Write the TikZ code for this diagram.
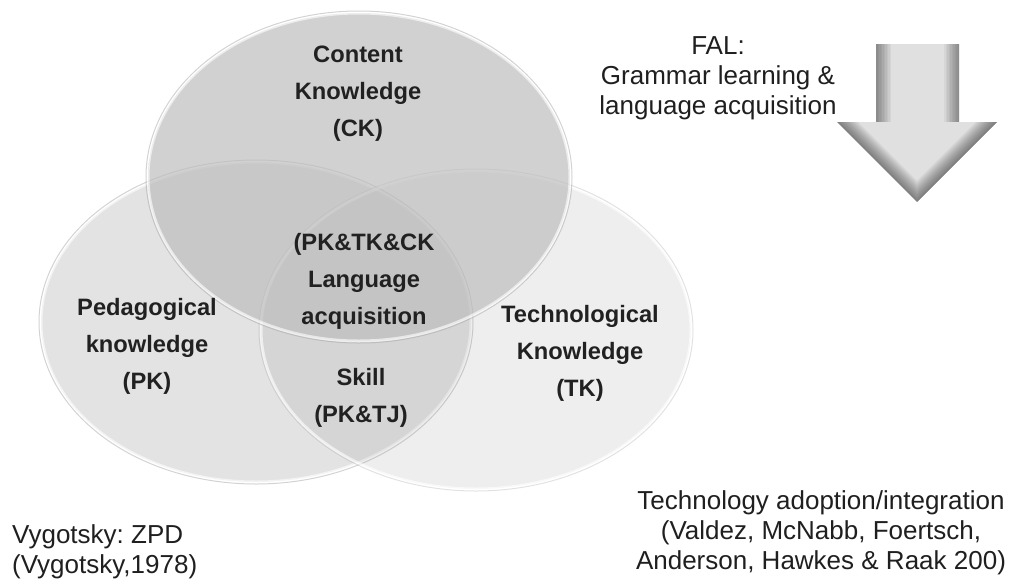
\documentclass[tikz,border=0pt]{standalone}
\usepackage{fontspec}
\setmainfont{Liberation Sans}
\frenchspacing
\definecolor{topin}{gray}{0.74}
\definecolor{topout}{gray}{0.55}
\definecolor{leftin}{gray}{0.89}
\definecolor{leftout}{gray}{0.77}
\definecolor{rightin}{gray}{0.52}
\definecolor{rightout}{gray}{0.34}
\definecolor{arrowfill}{gray}{0.88}
\definecolor{labeltext}{gray}{0.13}
\definecolor{notetext}{gray}{0.12}
\definecolor{edgegray}{gray}{0.62}
\pgfdeclareradialshading{topsh}{\pgfpoint{0bp}{0bp}}{color(0bp)=(topin); color(32bp)=(topin); color(50bp)=(topout)}
\pgfdeclareradialshading{leftsh}{\pgfpoint{0bp}{0bp}}{color(0bp)=(leftin); color(30bp)=(leftin); color(50bp)=(leftout)}
\pgfdeclareradialshading{rightsh}{\pgfpoint{0bp}{0bp}}{color(0bp)=(rightin); color(30bp)=(rightin); color(50bp)=(rightout)}
\tikzset{
  lbl/.style={font=\bfseries\fontsize{23.7}{37}\selectfont, align=center, anchor=base, inner sep=0pt, text=labeltext},
  note/.style={font=\fontsize{26}{30}\selectfont, inner sep=0pt, anchor=base, text=notetext},
  rim/.style={draw=white, draw opacity=0.6, line width=3pt},
  outrim/.style={draw=edgegray, draw opacity=0.45, line width=1pt},
}
\begin{document}
\begin{tikzpicture}[x=1pt,y=-1pt]
\useasboundingbox (0,0) rectangle (1017,579);
% left ellipse (PK)
\shade[shading=leftsh] (256,322) ellipse [x radius=215pt, y radius=160pt];
\draw[rim] (256,322) ellipse [x radius=215pt, y radius=160pt];
\draw[outrim] (256,322) ellipse [x radius=217pt, y radius=162pt];
% right ellipse (TK)
\shade[shading=rightsh, fill opacity=0.14] (476,330) ellipse [x radius=215pt, y radius=159pt];
\draw[rim] (476,330) ellipse [x radius=215pt, y radius=159pt];
\draw[outrim, draw opacity=0.3] (476,330) ellipse [x radius=217pt, y radius=161pt];
% top ellipse (CK)
\shade[shading=topsh, fill opacity=0.69] (359,177) ellipse [x radius=211pt, y radius=164pt];
\draw[rim] (359,177) ellipse [x radius=211pt, y radius=164pt];
\draw[outrim] (359,177) ellipse [x radius=213pt, y radius=166pt];

% arrow
\fill[arrowfill] (876,44) -- (959,44) -- (959,122) -- (997,122) -- (917,202) -- (837,122) -- (876,122) -- cycle;
\begin{scope}
\clip (876,44) -- (959,44) -- (959,122) -- (997,122) -- (917,202) -- (837,122) -- (876,122) -- cycle;
\foreach \w in {3,6,...,30}{
  \draw[line width=\w pt, black, opacity=0.045] (876,20) -- (876,122);
  \draw[line width=\w pt, black, opacity=0.045] (959,20) -- (959,122);
  \draw[line width=\w pt, black, opacity=0.05, line join=miter] (837,122) -- (917,202) -- (997,122);
}
\end{scope}

% labels (anchor = baseline of the last line)
\node[lbl] (ck) at (358,136) {Content\\Knowledge\\(CK)};
\node[lbl] (pk) at (147,389) {Pedagogical\\knowledge\\(PK)};
\node[lbl] (tk) at (580,396) {Technological\\Knowledge\\(TK)};
\node[lbl] (core) at (364,324) {(PK\&TK\&CK\\Language\\acquisition};
\node[lbl] (skill) at (361,422) {Skill\\(PK\&TJ)};

% notes
\node[note, align=center] (fal) at (718,114) {FAL:\\Grammar learning \&\\language acquisition};
\node[note, align=left, anchor=base west] (vyg) at (12,573) {Vygotsky: ZPD\\(Vygotsky,1978)};
\node[note, align=center] (tech) at (821,569) {Technology adoption/integration\\(Valdez, McNabb, Foertsch,\\Anderson, Hawkes \& Raak 200)};
\end{tikzpicture}
\end{document}
